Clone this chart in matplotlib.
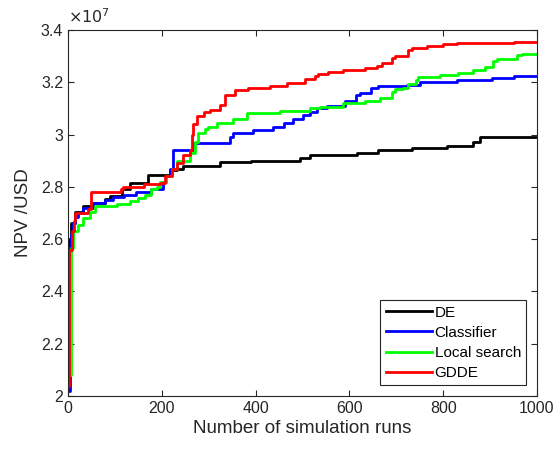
import matplotlib
matplotlib.use("Agg")
import matplotlib.pyplot as plt

plt.rcParams['font.family'] = ['Liberation Sans', 'DejaVu Sans']

# NPV values in units of 1e7 USD, step curves (value holds until next run)
de_x = [0, 3, 6, 15, 33, 53, 79, 90, 115, 132, 170, 217, 232, 245, 324, 390, 495,
        516, 616, 661, 733, 808, 864, 878, 1000]
de_y = [2.03, 2.60, 2.66, 2.705, 2.725, 2.74, 2.755, 2.765, 2.79, 2.815, 2.845,
        2.865, 2.87, 2.88, 2.895, 2.90, 2.91, 2.92, 2.93, 2.94, 2.95, 2.955, 2.97,
        2.99, 2.99]

cl_x = [0, 5, 7, 10, 15, 22, 33, 53, 79, 95, 120, 146, 177, 203, 210, 217, 223,
        267, 345, 352, 395, 438, 460, 480, 500, 516, 530, 552, 591, 615, 623, 647,
        662, 722, 751, 829, 903, 950, 1000]
cl_y = [2.02, 2.57, 2.62, 2.66, 2.685, 2.70, 2.72, 2.74, 2.75, 2.76, 2.77, 2.78,
        2.79, 2.82, 2.84, 2.87, 2.94, 2.967, 2.99, 3.005, 3.018, 3.03, 3.045, 3.06,
        3.075, 3.087, 3.10, 3.11, 3.13, 3.15, 3.16, 3.18, 3.185, 3.19, 3.20, 3.21,
        3.215, 3.225, 3.225]

ls_x = [0, 6, 11, 22, 33, 47, 58, 104, 132, 150, 164, 178, 189, 196, 210, 221,
        232, 260, 271, 278, 292, 299, 317, 352, 381, 452, 516, 537, 587, 633, 665,
        690, 697, 715, 726, 743, 747, 793, 832, 864, 889, 907, 914, 957, 967, 1000]
ls_y = [2.08, 2.565, 2.63, 2.655, 2.68, 2.705, 2.725, 2.735, 2.745, 2.757, 2.77,
        2.79, 2.80, 2.82, 2.84, 2.87, 2.90, 2.93, 2.97, 3.005, 3.02, 3.03, 3.045,
        3.06, 3.083, 3.092, 3.10, 3.106, 3.12, 3.13, 3.14, 3.163, 3.174, 3.18,
        3.195, 3.21, 3.22, 3.228, 3.237, 3.247, 3.26, 3.28, 3.29, 3.305, 3.31, 3.31]

gd_x = [0, 2, 8, 12, 15, 43, 48, 114, 118, 161, 196, 207, 221, 232, 245, 260, 264,
        267, 274, 289, 303, 324, 335, 356, 384, 431, 466, 505, 527, 534, 555, 587,
        633, 658, 669, 690, 697, 726, 733, 765, 800, 829, 950, 1000]
gd_y = [2.04, 2.56, 2.63, 2.67, 2.70, 2.715, 2.78, 2.79, 2.80, 2.81, 2.815, 2.84,
        2.87, 2.89, 2.92, 2.94, 3.00, 3.04, 3.07, 3.087, 3.094, 3.113, 3.15, 3.17,
        3.18, 3.186, 3.197, 3.212, 3.225, 3.232, 3.24, 3.247, 3.254, 3.262, 3.274,
        3.293, 3.30, 3.324, 3.33, 3.34, 3.345, 3.349, 3.353, 3.353]

labels = ['DE', 'Classifier', 'Local search', 'GDDE']
colors = ['black', 'blue', '#00ff00', 'red']
xticks = [0, 200, 400, 600, 800, 1000]
yticks = [2, 2.2, 2.4, 2.6, 2.8, 3, 3.2, 3.4]

fig = plt.figure(figsize=(5.57, 4.5), dpi=100)
ax = fig.add_axes([68 / 557, 1 - 396 / 450, 469 / 557, 366 / 450])

series = [(de_x, de_y), (cl_x, cl_y), (ls_x, ls_y), (gd_x, gd_y)]
for (xs, ys), lab, c in zip(series, labels, colors):
    ax.plot(xs, ys, drawstyle='steps-post', color=c, lw=2, label=lab)

ax.set_xlim(0, 1000)
ax.set_ylim(2, 3.4)
ax.set_xticks(xticks)
ax.set_xticklabels([str(t) for t in xticks])
ax.set_yticks(yticks)
ax.set_yticklabels(['%g' % t for t in yticks])
ax.tick_params(direction='in', top=True, right=True, labelsize=11.5,
               colors='#262626', length=4)
for s in ax.spines.values():
    s.set_color('#262626')
    s.set_linewidth(0.8)

ax.set_xlabel('Number of simulation runs', fontsize=13.5, color='#262626',
              labelpad=3)
ax.set_ylabel('NPV /USD', fontsize=13.5, color='#262626', labelpad=6)
ax.text(0, 1.012, r'$\times10^{7}$', transform=ax.transAxes, fontsize=11.5,
        color='#262626', ha='left', va='bottom')

leg = ax.legend(loc='lower right', fontsize=11, fancybox=False, framealpha=1,
                edgecolor='#262626', borderaxespad=0.7, handlelength=3.0,
                handletextpad=0.2, labelspacing=0.4, borderpad=0.35)
leg.get_frame().set_linewidth(0.8)

fig.savefig('out.png', dpi=100)
